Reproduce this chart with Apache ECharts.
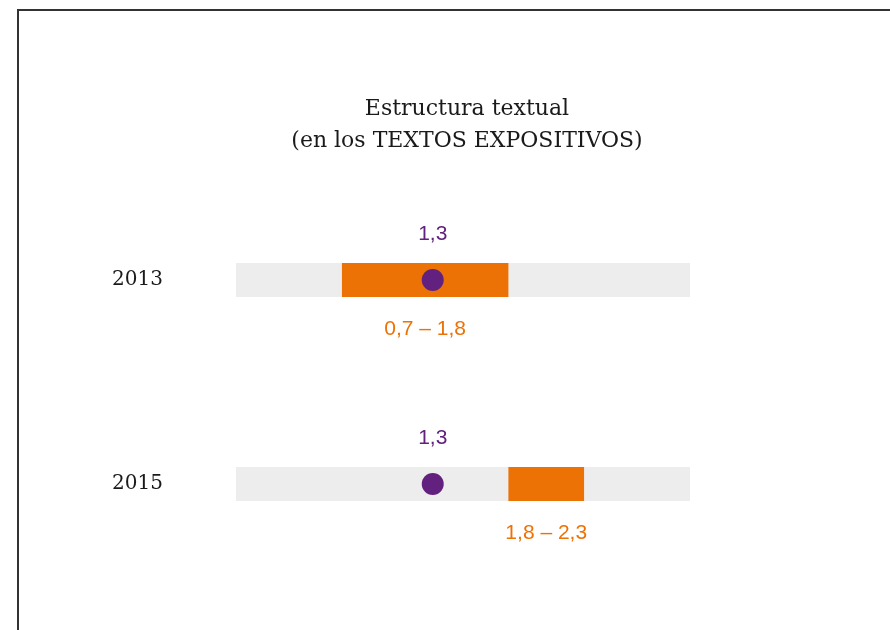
<!DOCTYPE html>
<html>
<head>
<meta charset="utf-8">
<script src="https://cdn.jsdelivr.net/npm/echarts@6/dist/echarts.min.js"></script>
<style>
	html, body { margin: 0; padding: 0; background: #fff; }
	#chart { width: 890px; height: 630px; }
</style>
</head>
<body>
<div id="chart"></div>
<script>
var years = ['2013', '2015'];
var scaleMax = [3, 3];
var rangeLow = [0.7, 1.8];
var rangeHigh = [1.8, 2.3];
var pointValue = [1.3, 1.3];

var ORANGE = '#ec7206';
var PURPLE = '#62207f';

function fmt(v) {
	return String(v).replace('.', ',');
}

var chart = echarts.init(document.getElementById('chart'));

var option = {
	animation: false,
	title: {
		text: 'Estructura textual\n(en los TEXTOS EXPOSITIVOS)',
		left: 462,
		top: 88,
		textAlign: 'center',
		textStyle: {
			fontFamily: 'DejaVu Serif',
			fontWeight: 'normal',
			fontSize: 22,
			lineHeight: 32,
			color: '#1a1a1a'
		}
	},
	graphic: [{
		type: 'rect',
		shape: { x: 18, y: 10, width: 900, height: 700 },
		style: { fill: 'none', stroke: '#333', lineWidth: 2 },
		silent: true
	}],
	grid: { left: 236, right: 200, top: 178, bottom: 44 },
	xAxis: {
		type: 'value',
		min: 0,
		max: 3,
		show: false
	},
	yAxis: {
		type: 'category',
		data: years,
		inverse: true,
		axisLine: { show: false },
		axisTick: { show: false },
		splitLine: { show: false },
		axisLabel: {
			margin: 73,
			fontFamily: 'DejaVu Serif',
			fontSize: 20,
			color: '#1a1a1a'
		}
	},
	series: [
		{
			// fondo gris
			type: 'bar',
			data: scaleMax,
			barWidth: 34,
			barGap: '-100%',
			itemStyle: { color: '#ededed' },
			silent: true
		},
		{
			type: 'bar',
			stack: 'r',
			data: rangeLow,
			barWidth: 34,
			barGap: '-100%',
			itemStyle: { color: 'transparent' },
			silent: true
		},
		{
			type: 'bar',
			stack: 'r',
			data: rangeHigh.map(function (h, i) { return h - rangeLow[i]; }),
			barWidth: 34,
			barGap: '-100%',
			itemStyle: { color: ORANGE },
			label: {
				show: true,
				position: 'bottom',
				distance: 22,
				fontFamily: 'Liberation Sans',
				fontSize: 21,
				color: ORANGE,
				formatter: function (p) {
					return fmt(rangeLow[p.dataIndex]) + ' \u2013 ' + fmt(rangeHigh[p.dataIndex]);
				}
			}
		},
		{
			type: 'scatter',
			data: pointValue.map(function (v, i) { return [v, years[i]]; }),
			symbolSize: 22,
			itemStyle: { color: PURPLE, opacity: 1 },
			z: 5,
			label: {
				show: true,
				position: 'top',
				distance: 24,
				fontFamily: 'Liberation Sans',
				fontSize: 21,
				color: PURPLE,
				formatter: function (p) { return fmt(p.value[0]); }
			}
		}
	]
};

chart.setOption(option);
</script>
</body>
</html>
